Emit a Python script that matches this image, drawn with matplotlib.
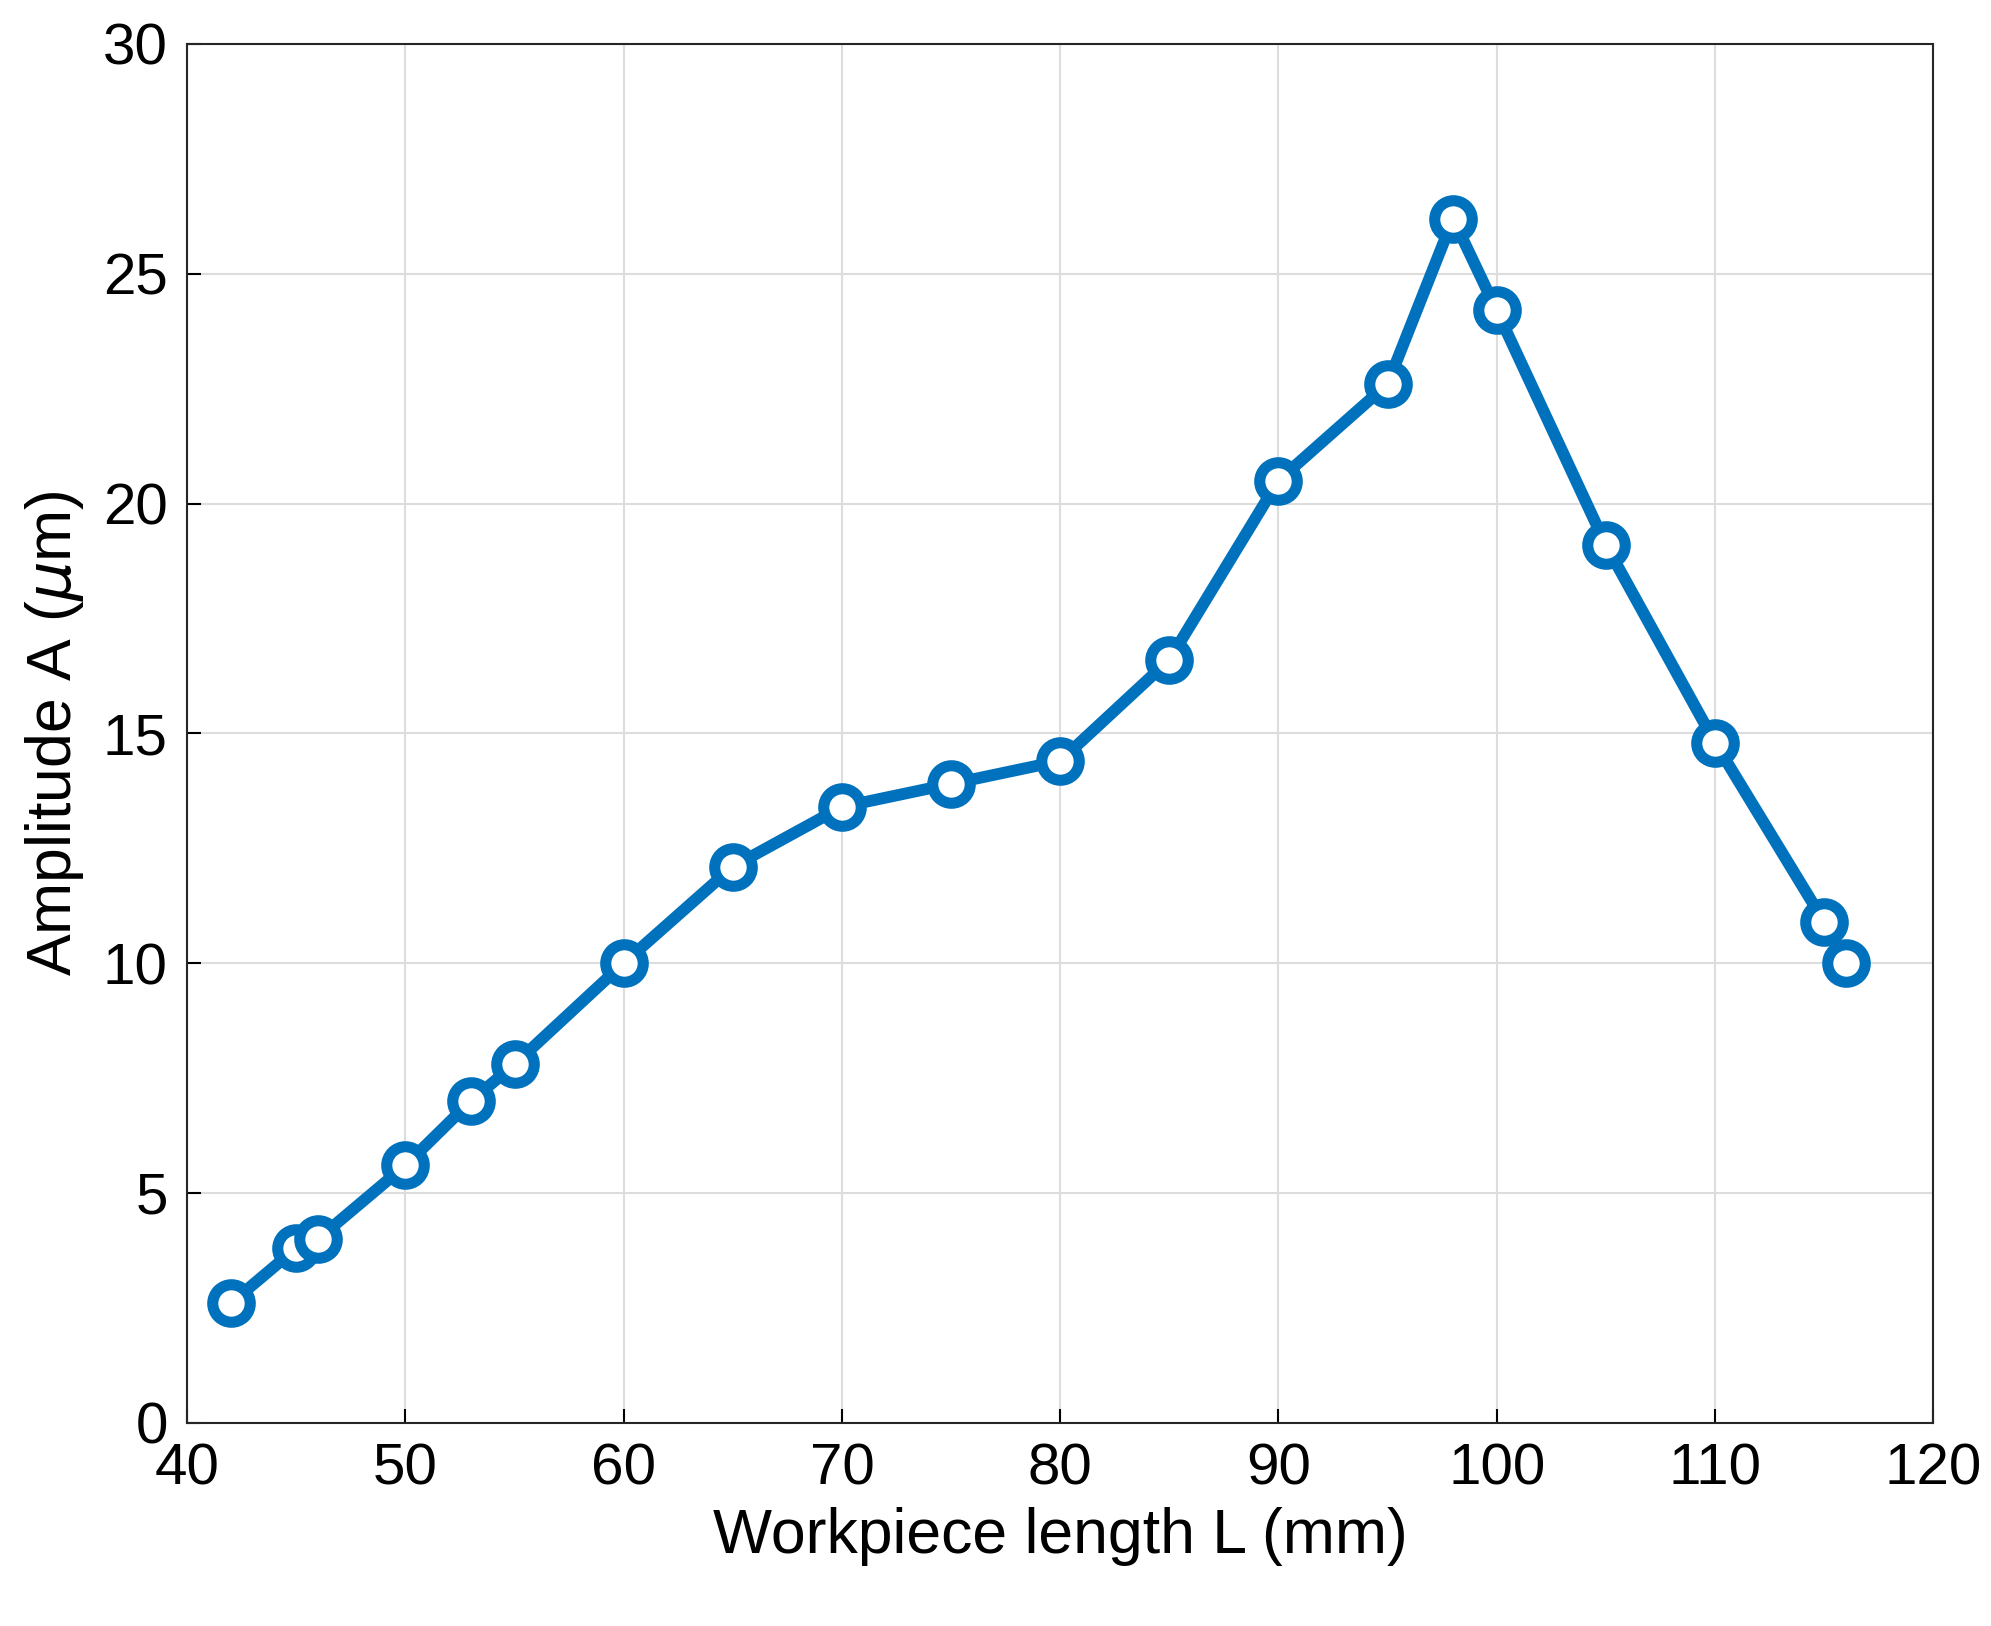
import matplotlib
matplotlib.use('Agg')
import matplotlib.pyplot as plt

plt.rcParams['font.family'] = ['Liberation Sans', 'DejaVu Sans']

# workpiece length (mm) and amplitude (um)
length_mm = [42, 45, 46, 50, 53, 55, 60, 65, 70, 75, 80, 85, 90, 95, 98, 100, 105, 110, 115, 116]
amplitude = [2.6, 3.8, 4.0, 5.6, 7.0, 7.8, 10.0, 12.1, 13.4, 13.9, 14.4, 16.6, 20.5, 22.6, 26.2, 24.2, 19.1, 14.8, 10.9, 10.0]

fig = plt.figure(figsize=(19.91, 16.26), dpi=100)
ax = fig.add_axes([0.094, 0.125, 0.877, 0.848])

ax.plot(length_mm, amplitude, '-o', color='#0072BD', linewidth=8.5,
        markersize=27, markeredgewidth=8, markerfacecolor='white')

ax.set_xlim(40, 120)
ax.set_ylim(0, 30)
ax.set_xticks(range(40, 121, 10))
ax.set_yticks(range(0, 31, 5))
ax.grid(True, color='#dddddd', linewidth=1.5)
ax.tick_params(axis='both', labelsize=42, direction='in', length=10, width=1.5, pad=14)
for s in ax.spines.values():
    s.set_linewidth(1.5)
    s.set_color('#262626')

ax.set_xlabel('Workpiece length L (mm)', fontsize=45, labelpad=8)
ax.set_ylabel(r'Amplitude A ($\mu$m)', fontsize=45, labelpad=12)

fig.savefig('out.png')
